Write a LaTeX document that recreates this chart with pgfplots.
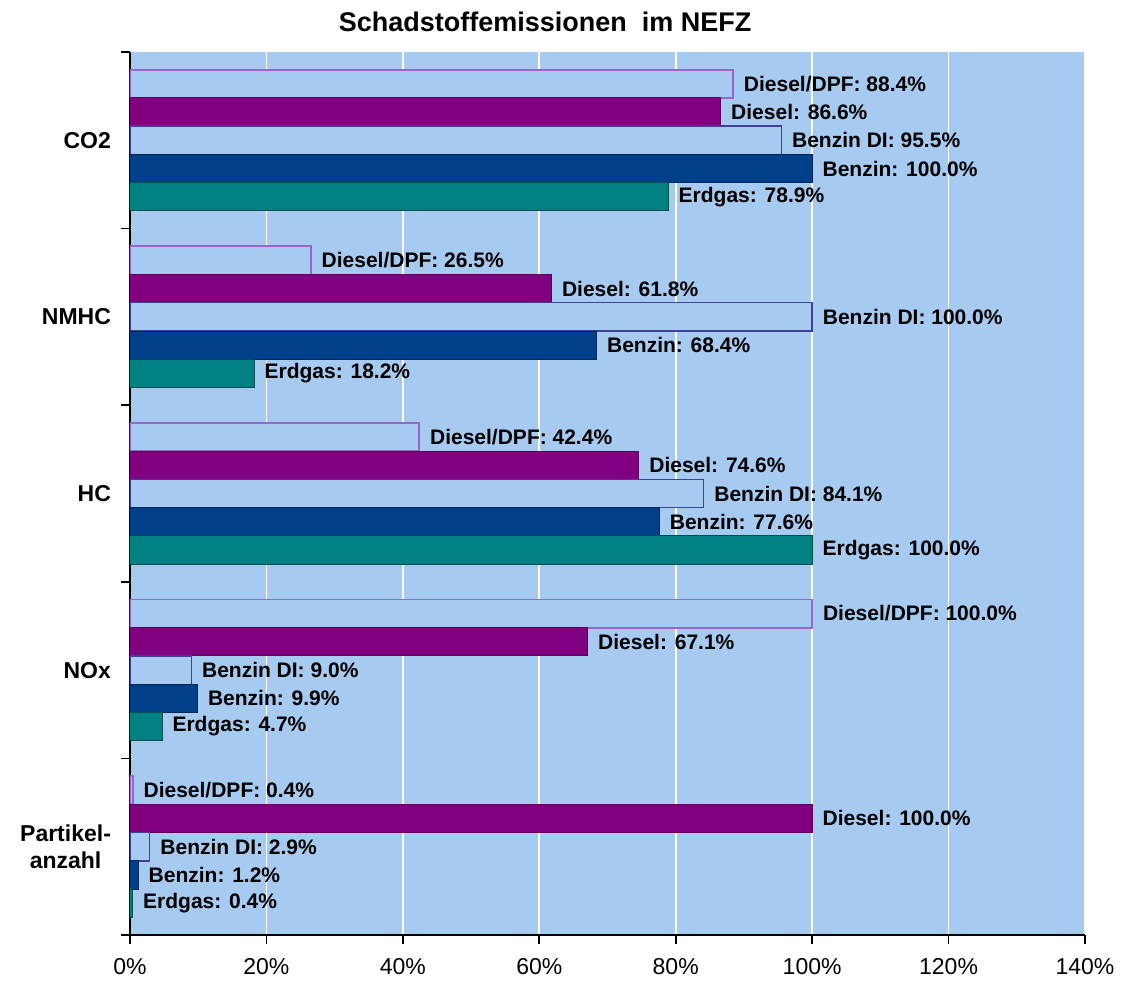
\documentclass[border=0pt]{standalone}
\usepackage{pgfplots}
\pgfplotsset{compat=1.18}
\usepackage{fontspec}
\setmainfont{Liberation Sans}
\definecolor{bgblue}{HTML}{A6CAF0}
\definecolor{dpfline}{HTML}{9966CC}
\definecolor{dieselc}{HTML}{800080}
\definecolor{benzindiline}{HTML}{40409A}
\definecolor{benzinc}{HTML}{00408A}
\definecolor{erdgasc}{HTML}{008080}

\pgfplotstableread{
y val
4 88.4
3 26.5
2 42.4
1 100.0
0 0.4
}\dpf
\pgfplotstableread{
y val
4 86.6
3 61.8
2 74.6
1 67.1
0 100.0
}\diesel
\pgfplotstableread{
y val
4 95.5
3 100.0
2 84.1
1 9.0
0 2.9
}\benzindi
\pgfplotstableread{
y val
4 100.0
3 68.4
2 77.6
1 9.9
0 1.2
}\benzin
\pgfplotstableread{
y val
4 78.9
3 18.2
2 100.0
1 4.7
0 0.4
}\erdgas

\begin{document}
\begin{tikzpicture}
\useasboundingbox (-65pt,-25pt) rectangle (497.5pt,467.5pt);
\begin{axis}[
  scale only axis,
  width=477.5pt, height=441.5pt,
  xmin=0, xmax=140, ymin=-0.5, ymax=4.5,
  enlargelimits=false,
  axis lines*=left,
  axis line style={-, black, line width=0.8pt},
  axis background/.style={fill=bgblue},
  xbar,
  bar width=0.16,
  xtick={0,20,...,140},
  xticklabel={\pgfmathprintnumber{\tick}\%},
  xticklabel style={yshift=-3.5pt},
  xmajorgrids,
  major grid style={white, line width=0.8pt},
  tick align=outside,
  major tick length=4.5pt,
  tick style={black, line width=0.8pt},
  ytick={-0.5,0.5,...,4.5},
  yticklabels={},
  extra y ticks={0,1,2,3,4},
  extra y tick labels={{Partikel-\\anzahl},NOx,HC,NMHC,CO2},
  extra y tick style={major tick length=0pt, ymajorgrids=false,
    yticklabel style={align=center, font=\fontsize{11.5}{13.5}\selectfont\bfseries, xshift=-6pt}},
  ticklabel style={font=\fontsize{11.5}{13.5}\selectfont},
  /pgf/number format/assume math mode=true,
  title={Schadstoffemissionen~ im NEFZ},
  title style={at={(0.4346,1.020)}, anchor=center, font=\fontsize{13.5}{16}\selectfont\bfseries},
  nodes near coords style={anchor=west, inner sep=1pt, xshift=4pt, text=black,
    font=\fontsize{10.5}{12}\selectfont\bfseries},
]
\addplot[xbar, bar shift=0.32, fill=bgblue, draw=dpfline, line width=0.9pt,
  nodes near coords={Diesel/DPF: \pgfmathprintnumber[fixed,fixed zerofill,precision=1,assume math mode=true]{\pgfplotspointmeta}\%}]
  table[x=val,y=y]{\dpf};
\addplot[xbar, bar shift=0.16, fill=dieselc, draw=dieselc!70!black, line width=0.5pt,
  nodes near coords={Diesel: \pgfmathprintnumber[fixed,fixed zerofill,precision=1,assume math mode=true]{\pgfplotspointmeta}\%}]
  table[x=val,y=y]{\diesel};
\addplot[xbar, bar shift=0, fill=bgblue, draw=benzindiline, line width=0.7pt,
  nodes near coords={Benzin DI: \pgfmathprintnumber[fixed,fixed zerofill,precision=1,assume math mode=true]{\pgfplotspointmeta}\%}]
  table[x=val,y=y]{\benzindi};
\addplot[xbar, bar shift=-0.16, fill=benzinc, draw=benzinc!60!black, line width=0.5pt,
  nodes near coords={Benzin: \pgfmathprintnumber[fixed,fixed zerofill,precision=1,assume math mode=true]{\pgfplotspointmeta}\%}]
  table[x=val,y=y]{\benzin};
\addplot[xbar, bar shift=-0.32, fill=erdgasc, draw=erdgasc!60!black, line width=0.5pt,
  nodes near coords={Erdgas: \pgfmathprintnumber[fixed,fixed zerofill,precision=1,assume math mode=true]{\pgfplotspointmeta}\%}]
  table[x=val,y=y]{\erdgas};
\end{axis}
\end{tikzpicture}
\end{document}
